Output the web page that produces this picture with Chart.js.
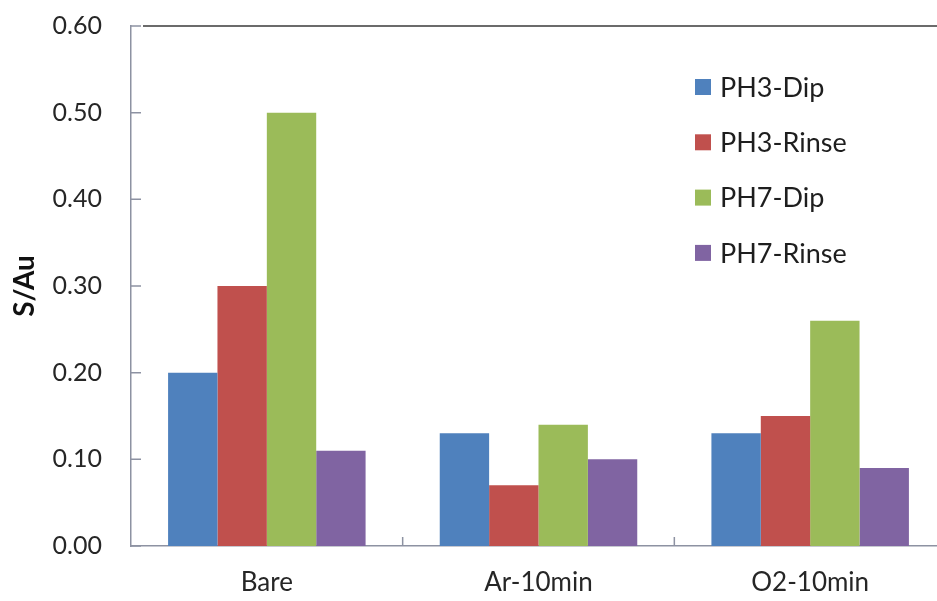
<!DOCTYPE html>
<html>
<head>
<meta charset="utf-8">
<script src="https://cdn.jsdelivr.net/npm/chart.js@4"></script>
<style>
  html, body { margin: 0; padding: 0; background: #ffffff; overflow: hidden; }
  #wrap { position: relative; width: 946px; height: 601px; }
</style>
</head>
<body>
<div id="wrap"><canvas id="chart"></canvas></div>
<script>
// Sulfur-to-gold ratio for each surface treatment
const categories = ['Bare', 'Ar-10min', 'O2-10min'];
const seriesNames = ['PH3-Dip', 'PH3-Rinse', 'PH7-Dip', 'PH7-Rinse'];
const ph3Dip   = [0.20, 0.13, 0.13];
const ph3Rinse = [0.30, 0.07, 0.15];
const ph7Dip   = [0.50, 0.14, 0.26];
const ph7Rinse = [0.11, 0.10, 0.09];
const yTickValues = [0.0, 0.1, 0.2, 0.3, 0.4, 0.5, 0.6];

const seriesColors = ['#4F81BD', '#C0504D', '#9BBB59', '#8064A2'];
const seriesValues = [ph3Dip, ph3Rinse, ph7Dip, ph7Rinse];

const FONT = 'Lato, "Open Sans", "DejaVu Sans", sans-serif';
const AXIS_COLOR = '#8d92a2';

// Inner tick marks on both axes plus the dark frame line along the top
const framePlugin = {
  id: 'frame',
  afterDraw(chart) {
    const { ctx, chartArea } = chart;
    const x = chart.scales.x, y = chart.scales.y;
    ctx.save();
    ctx.strokeStyle = AXIS_COLOR;
    ctx.lineWidth = 1.5;
    ctx.beginPath();
    y.ticks.forEach(t => {
      const py = y.getPixelForValue(t.value);
      ctx.moveTo(chartArea.left, py);
      ctx.lineTo(chartArea.left + 10, py);
    });
    for (let i = 0; i < categories.length - 1; i++) {
      const px = (x.getPixelForValue(i) + x.getPixelForValue(i + 1)) / 2;
      ctx.moveTo(px, chartArea.bottom);
      ctx.lineTo(px, chartArea.bottom - 9);
    }
    ctx.stroke();

    ctx.strokeStyle = '#3a3a3a';
    ctx.lineWidth = 1.6;
    ctx.beginPath();
    ctx.moveTo(chartArea.left + 12, chartArea.top);
    ctx.lineTo(chartArea.right, chartArea.top);
    ctx.stroke();
    ctx.restore();
  }
};

// Legend drawn inside the plot area, one entry per row
const insideLegend = {
  id: 'insideLegend',
  afterDraw(chart, args, opts) {
    const { ctx, chartArea } = chart;
    ctx.save();
    ctx.font = opts.fontSize + 'px ' + FONT;
    ctx.textBaseline = 'middle';
    ctx.textAlign = 'left';
    chart.data.datasets.forEach((ds, i) => {
      const cy = chartArea.top + opts.offsetY + i * opts.rowGap;
      const bx = chartArea.left + opts.offsetX;
      ctx.fillStyle = ds.backgroundColor;
      ctx.fillRect(bx, cy - opts.box / 2, opts.box, opts.box);
      ctx.fillStyle = '#1e1e1e';
      ctx.fillText(ds.label, bx + opts.box + 9, cy + 1);
    });
    ctx.restore();
  }
};

new Chart(document.getElementById('chart'), {
  type: 'bar',
  data: {
    labels: categories,
    datasets: seriesNames.map((name, i) => ({
      label: name,
      data: seriesValues[i],
      backgroundColor: seriesColors[i],
      borderWidth: 0,
      categoryPercentage: 0.727,
      barPercentage: 1.0
    }))
  },
  options: {
    responsive: true,
    maintainAspectRatio: false,
    animation: false,
    devicePixelRatio: 1,
    layout: { padding: { left: 0, right: 0, top: 26, bottom: 0 } },
    plugins: {
      legend: { display: false },
      tooltip: { enabled: false },
      insideLegend: { offsetX: 564, offsetY: 61, rowGap: 55.3, box: 16, fontSize: 27 }
    },
    scales: {
      x: {
        grid: { display: false, drawTicks: false },
        border: { display: true, color: AXIS_COLOR, width: 1.5 },
        ticks: { color: '#262626', padding: 21, font: { family: FONT, size: 26 } },
        afterFit(s) { s.height = 55; s.paddingLeft = 0; s.paddingRight = 0; }
      },
      y: {
        min: 0,
        max: 0.6,
        grid: { display: false, drawTicks: false },
        border: { display: true, color: AXIS_COLOR, width: 1.5 },
        afterBuildTicks(s) { s.ticks = yTickValues.map(v => ({ value: v })); },
        ticks: {
          color: '#262626',
          padding: 29,
          font: { family: FONT, size: 25 },
          callback: v => Number(v).toFixed(2)
        },
        title: {
          display: true,
          text: 'S/Au',
          color: '#111111',
          padding: { top: 8, bottom: 0 },
          font: { family: FONT, size: 28, weight: 'bold' }
        },
        afterFit(s) { s.width = 131; s.paddingTop = 0; s.paddingBottom = 0; }
      }
    }
  },
  plugins: [framePlugin, insideLegend]
});
</script>
</body>
</html>
